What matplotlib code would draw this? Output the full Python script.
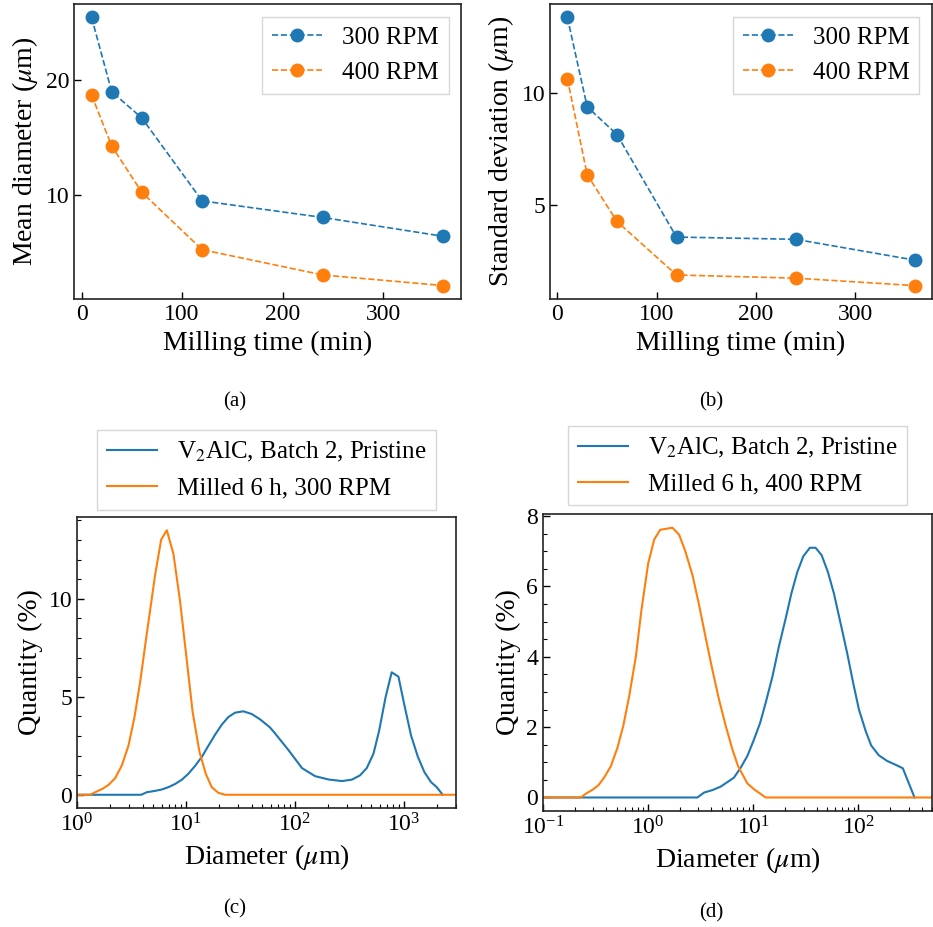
import numpy as np
import matplotlib
matplotlib.use("Agg")
import matplotlib.pyplot as plt
from matplotlib.ticker import AutoMinorLocator

plt.rcParams["font.family"] = ["Liberation Serif", "DejaVu Serif"]
plt.rcParams["mathtext.fontset"] = "stix"

# milling series
milling_time = [10, 30, 60, 120, 240, 360]
mean_300 = [25.5, 19.0, 16.7, 9.45, 8.0, 6.35]
mean_400 = [18.7, 14.25, 10.2, 5.18, 2.97, 2.04]
std_300 = [13.33, 9.37, 8.14, 3.60, 3.50, 2.58]
std_400 = [10.62, 6.36, 4.29, 1.92, 1.78, 1.45]

# particle size distributions, panel (c)
c_pristine_d = [0.5, 1.0, 2.0, 3.88, 4.37, 5.21, 6.0, 6.9, 7.94, 9.16, 10.5, 12.1, 14.0,
                16.0, 18.5, 21.3, 24.5, 28.2, 33.6, 40.1, 47.8, 58.9, 65.9, 87.4, 116,
                153, 203, 269, 332, 395, 455, 525, 590, 679, 771, 889, 1009, 1159, 1336,
                1538, 1767, 1995, 2265]
c_pristine_q = [0, 0, 0, 0, 0.13, 0.2, 0.27, 0.39, 0.55, 0.77, 1.07, 1.47, 1.94,
                2.49, 3.07, 3.58, 3.97, 4.19, 4.26, 4.12, 3.85, 3.44, 3.12, 2.27, 1.36,
                0.95, 0.78, 0.70, 0.77, 0.99, 1.36, 2.1, 3.24, 5.0, 6.25, 6.03, 4.57, 3.04,
                1.96, 1.16, 0.65, 0.39, 0]
c_milled_d = [0.5, 1.32, 1.52, 1.72, 1.95, 2.24, 2.58, 2.97, 3.37, 3.80, 4.31, 4.86, 5.21,
              5.92, 6.67, 7.67, 8.83, 10.2, 11.5, 13.3, 15.2, 17.2, 19.8, 22.8, 3500]
c_milled_q = [0, 0, 0.17, 0.31, 0.51, 0.85, 1.5, 2.52, 3.97, 5.77, 7.99, 10.04, 11.23,
              13.02, 13.5, 12.29, 9.86, 6.79, 4.23, 2.18, 1.07, 0.39, 0.1, 0, 0]

# particle size distributions, panel (d)
d_pristine_d = [0.05, 1.0, 2.94, 3.4, 4.08, 4.9, 5.88, 6.56, 7.59, 8.77, 10.0, 11.6, 13.1,
                15.2, 17.5, 20.3, 23.0, 26.2, 29.9, 34.5, 39.1, 44.6, 51.2, 58.4, 67.6,
                78.1, 89.1, 101, 117, 132, 156, 187, 233, 264, 341]
d_pristine_q = [0, 0, 0, 0.14, 0.21, 0.31, 0.47, 0.57, 0.85, 1.18, 1.6, 2.12, 2.69,
                3.44, 4.29, 5.09, 5.8, 6.41, 6.86, 7.1, 7.1, 6.89, 6.41, 5.8, 4.95,
                4.1, 3.25, 2.5, 1.89, 1.48, 1.2, 1.04, 0.91, 0.83, 0]
d_milled_d = [0.05, 0.23, 0.256, 0.296, 0.337, 0.382, 0.442, 0.511, 0.579, 0.66, 0.764,
              0.863, 1.0, 1.14, 1.3, 1.70, 1.97, 2.24, 2.64, 3.05, 3.53, 4.08, 4.72, 5.47,
              6.32, 7.16, 7.59, 8.77, 10.2, 13.1, 1000]
d_milled_q = [0, 0, 0.11, 0.22, 0.35, 0.57, 0.89, 1.42, 2.03, 2.88, 4.01,
              5.33, 6.65, 7.33, 7.61, 7.67, 7.47, 7.03, 6.32, 5.47, 4.53, 3.63, 2.78, 2.03,
              1.37, 0.89, 0.75, 0.40, 0.23, 0, 0]

W, H = 933, 927
fig = plt.figure(figsize=(W / 100, H / 100), dpi=100)


def box(l, r, t, b):
    return [l / W, 1 - b / H, (r - l) / W, (b - t) / H]


def style(ax):
    ax.tick_params(direction="in", labelsize=17, length=5, width=1,
                   top=False, right=False)
    ax.tick_params(which="minor", direction="in", length=3, width=0.8,
                   top=False, right=False)
    for s in ax.spines.values():
        s.set_linewidth(1.2)
        s.set_color("#222222")


ax_a = fig.add_axes(box(74, 461, 4, 299))
ax_b = fig.add_axes(box(550, 932, 4, 299))
ax_c = fig.add_axes(box(77, 456, 517, 808))
ax_d = fig.add_axes(box(543, 932, 514, 811))

# (a) mean diameter
ax_a.plot(milling_time, mean_300, "o--", color="C0", ms=9, lw=1.2, label="300 RPM")
ax_a.plot(milling_time, mean_400, "o--", color="C1", ms=9, lw=1.2, label="400 RPM")
ax_a.set_xticks([0, 100, 200, 300])
ax_a.set_yticks([10, 20])
ax_a.set_xlabel("Milling time (min)", fontsize=20)
ax_a.set_ylabel(r"Mean diameter ($\mu$m)", fontsize=20)
ax_a.legend(fontsize=18, loc="upper right", fancybox=False)
style(ax_a)

# (b) standard deviation
ax_b.plot(milling_time, std_300, "o--", color="C0", ms=9, lw=1.2, label="300 RPM")
ax_b.plot(milling_time, std_400, "o--", color="C1", ms=9, lw=1.2, label="400 RPM")
ax_b.set_xticks([0, 100, 200, 300])
ax_b.set_yticks([5, 10])
ax_b.set_xlabel("Milling time (min)", fontsize=20)
ax_b.set_ylabel(r"Standard deviation ($\mu$m)", fontsize=20)
ax_b.legend(fontsize=18, loc="upper right", fancybox=False)
style(ax_b)

# (c) 300 RPM distribution
ax_c.plot(c_pristine_d, c_pristine_q, color="C0", lw=1.5, label=r"V$_2$AlC, Batch 2, Pristine")
ax_c.plot(c_milled_d, c_milled_q, color="C1", lw=1.5, label="Milled 6 h, 300 RPM")
ax_c.set_xscale("log")
ax_c.set_xlim(1, 3000)
ax_c.set_ylim(-0.675, 14.175)
ax_c.set_yticks([0, 5, 10])
ax_c.yaxis.set_minor_locator(AutoMinorLocator())
ax_c.set_xlabel(r"Diameter ($\mu$m)", fontsize=20)
ax_c.set_ylabel("Quantity (%)", fontsize=20)
ax_c.legend(fontsize=18, loc="lower center", bbox_to_anchor=(0.5, 1.0),
            borderaxespad=0.3, fancybox=False)
style(ax_c)

# (d) 400 RPM distribution
ax_d.plot(d_pristine_d, d_pristine_q, color="C0", lw=1.5, label=r"V$_2$AlC, Batch 2, Pristine")
ax_d.plot(d_milled_d, d_milled_q, color="C1", lw=1.5, label="Milled 6 h, 400 RPM")
ax_d.set_xscale("log")
ax_d.set_xlim(0.1, 500)
ax_d.set_ylim(-0.384, 8.06)
ax_d.set_yticks([0, 2, 4, 6, 8])
ax_d.yaxis.set_minor_locator(AutoMinorLocator())
ax_d.set_xlabel(r"Diameter ($\mu$m)", fontsize=20)
ax_d.set_ylabel("Quantity (%)", fontsize=20)
ax_d.legend(fontsize=18, loc="lower center", bbox_to_anchor=(0.5, 1.0),
            borderaxespad=0.35, fancybox=False)
style(ax_d)

for lab, x, y in [("(a)", 235, 402), ("(b)", 711, 402), ("(c)", 235, 909), ("(d)", 711, 913)]:
    fig.text(x / W, 1 - y / H, lab, fontsize=15, ha="center", va="center")

fig.savefig("out.png", dpi=100)
